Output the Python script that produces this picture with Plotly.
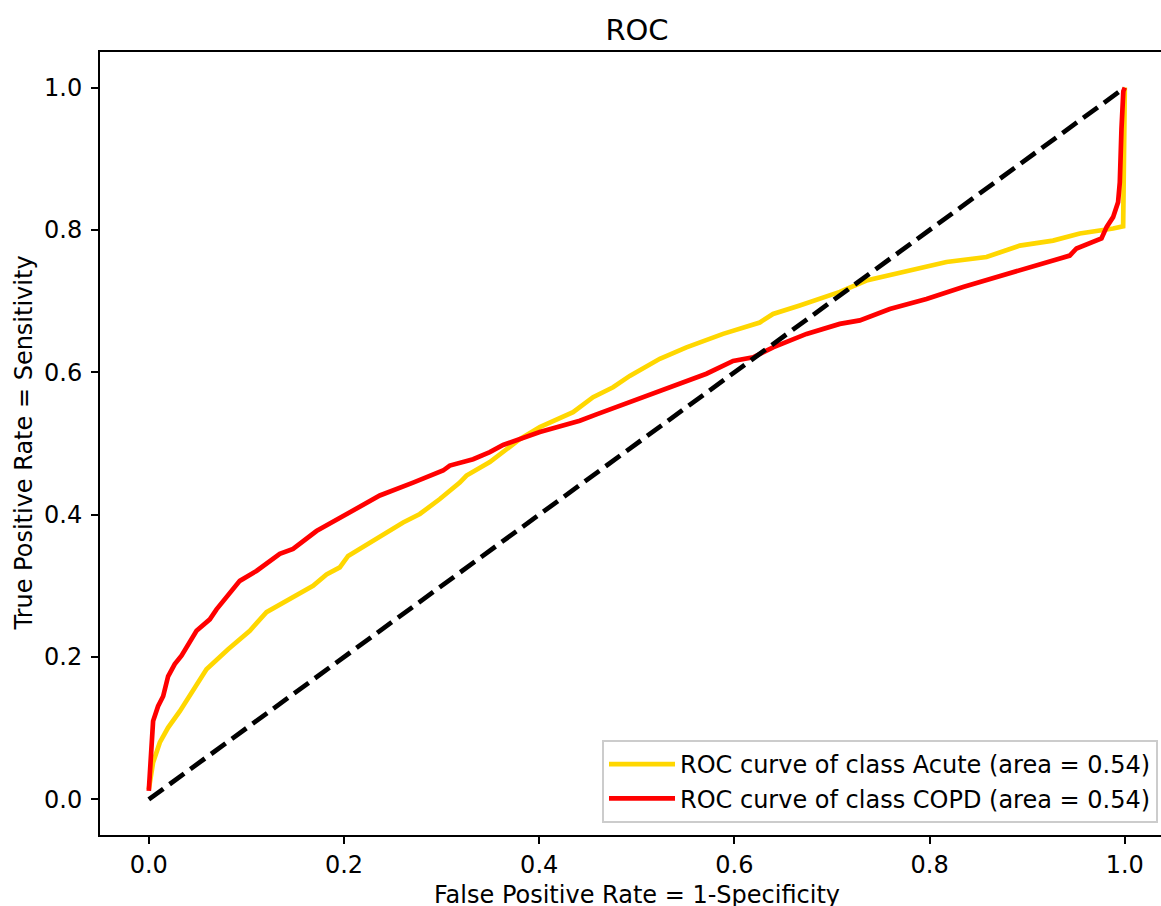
import plotly.graph_objects as go

# ---- data ----
acute_fpr = [0.000, 0.0044, 0.0113, 0.0198, 0.0318, 0.0420, 0.0591, 0.0813, 0.1035, 0.1206,
             0.1411, 0.1683, 0.1821, 0.1957, 0.2042, 0.2298, 0.2606, 0.2777, 0.2982, 0.3186,
             0.3255, 0.3494, 0.3801, 0.4006, 0.4347, 0.4552, 0.4757, 0.4928, 0.5236, 0.5509,
             0.5884, 0.6260, 0.6396, 0.6670, 0.6875, 0.7080, 0.7353, 0.7831, 0.8173, 0.8583,
             0.8924, 0.9265, 0.9539, 0.9880, 0.9983, 1.000]
acute_tpr = [0.014, 0.052, 0.080, 0.101, 0.124, 0.145, 0.183, 0.211, 0.237, 0.263,
             0.279, 0.300, 0.316, 0.326, 0.342, 0.363, 0.389, 0.401, 0.422, 0.445,
             0.455, 0.474, 0.506, 0.523, 0.544, 0.565, 0.579, 0.595, 0.619, 0.635,
             0.654, 0.670, 0.682, 0.694, 0.703, 0.713, 0.729, 0.745, 0.755, 0.762,
             0.778, 0.785, 0.795, 0.802, 0.805, 1.000]

copd_fpr = [0.000, 0.0017, 0.0044, 0.0095, 0.0147, 0.0198, 0.0266, 0.0335, 0.0489, 0.0625,
            0.0694, 0.0932, 0.1103, 0.1342, 0.1478, 0.1718, 0.1957, 0.2367, 0.2708, 0.3015,
            0.3084, 0.3323, 0.3494, 0.3630, 0.4006, 0.4416, 0.4587, 0.4962, 0.5372, 0.5714,
            0.5987, 0.6192, 0.6396, 0.6601, 0.6739, 0.7080, 0.7285, 0.7592, 0.7968, 0.8343,
            0.8855, 0.9198, 0.9436, 0.9505, 0.9761, 0.9813, 0.9880, 0.9931, 0.9949, 0.9966,
            0.9985, 1.000]
copd_tpr = [0.012, 0.061, 0.110, 0.131, 0.145, 0.173, 0.190, 0.202, 0.237, 0.253,
            0.267, 0.307, 0.321, 0.345, 0.352, 0.377, 0.396, 0.427, 0.445, 0.462,
            0.469, 0.478, 0.488, 0.498, 0.516, 0.532, 0.541, 0.560, 0.581, 0.598,
            0.616, 0.621, 0.635, 0.647, 0.654, 0.668, 0.673, 0.689, 0.703, 0.720,
            0.741, 0.755, 0.764, 0.774, 0.788, 0.804, 0.818, 0.839, 0.867, 0.942,
            0.995, 1.000]

chance_x = [0.0, 1.0]
chance_y = [0.0, 1.0]

names = ["ROC curve of class Acute (area = 0.54)", "ROC curve of class COPD (area = 0.54)"]
colors = ["#FFD700", "#FF0000"]
tick_vals = [0.0, 0.2, 0.4, 0.6, 0.8, 1.0]
tick_text = ["0.0", "0.2", "0.4", "0.6", "0.8", "1.0"]

FONT = "DejaVu Sans"
W, H = 1161, 906
ML, MT, MB = 100, 52, 71
LW = 4.7

fig = go.Figure()
fig.add_trace(go.Scatter(x=acute_fpr, y=acute_tpr, mode="lines", name=names[0],
                         line=dict(color=colors[0], width=LW)))
fig.add_trace(go.Scatter(x=copd_fpr, y=copd_tpr, mode="lines", name=names[1],
                         line=dict(color=colors[1], width=LW)))
fig.add_trace(go.Scatter(x=chance_x, y=chance_y, mode="lines", showlegend=False,
                         line=dict(color="black", width=LW, dash="18px,7.7px")))

plot_w = W - ML
axis_common = dict(showgrid=False, zeroline=False, showline=True, linecolor="black",
                   linewidth=2, ticks="outside", ticklen=7, tickwidth=2, tickcolor="black",
                   tickfont=dict(family=FONT, size=24, color="black"),
                   tickvals=tick_vals, ticktext=tick_text)

fig.update_layout(
    width=W, height=H,
    margin=dict(l=ML, r=0, t=MT, b=MB, autoexpand=False),
    paper_bgcolor="white", plot_bgcolor="white",
    font=dict(family=FONT, size=24, color="black"),
    xaxis=dict(range=[-0.05, -0.05 + plot_w / 976.0], mirror=True, **axis_common),
    yaxis=dict(range=[-0.05, 1.05], mirror=False, ticklabelstandoff=4, **axis_common),
    title=dict(text="ROC", font=dict(family=FONT, size=29, color="black"),
               xref="paper", x=(637 - ML) / plot_w, xanchor="center",
               yref="container", y=1 - 30 / H, yanchor="middle"),
    legend=dict(x=(1158 - ML) / plot_w, y=(835 - 823) / 783.0, xanchor="right", yanchor="bottom",
                bgcolor="rgba(255,255,255,0.8)", bordercolor="#cccccc", borderwidth=2,
                font=dict(family=FONT, size=24, color="black"), itemwidth=66),
    showlegend=True,
)

fig.add_annotation(text="False Positive Rate = 1-Specificity", xref="paper", yref="paper",
                   x=(637 - ML) / plot_w, y=(835 - 895) / 783.0, xanchor="center", yanchor="middle",
                   showarrow=False, font=dict(family=FONT, size=24, color="black"))
fig.add_annotation(text="True Positive Rate = Sensitivity", xref="paper", yref="paper",
                   x=(23 - ML) / plot_w, y=0.5, xanchor="center", yanchor="middle", textangle=-90,
                   showarrow=False, font=dict(family=FONT, size=24, color="black"))

fig.write_html("out.html")
